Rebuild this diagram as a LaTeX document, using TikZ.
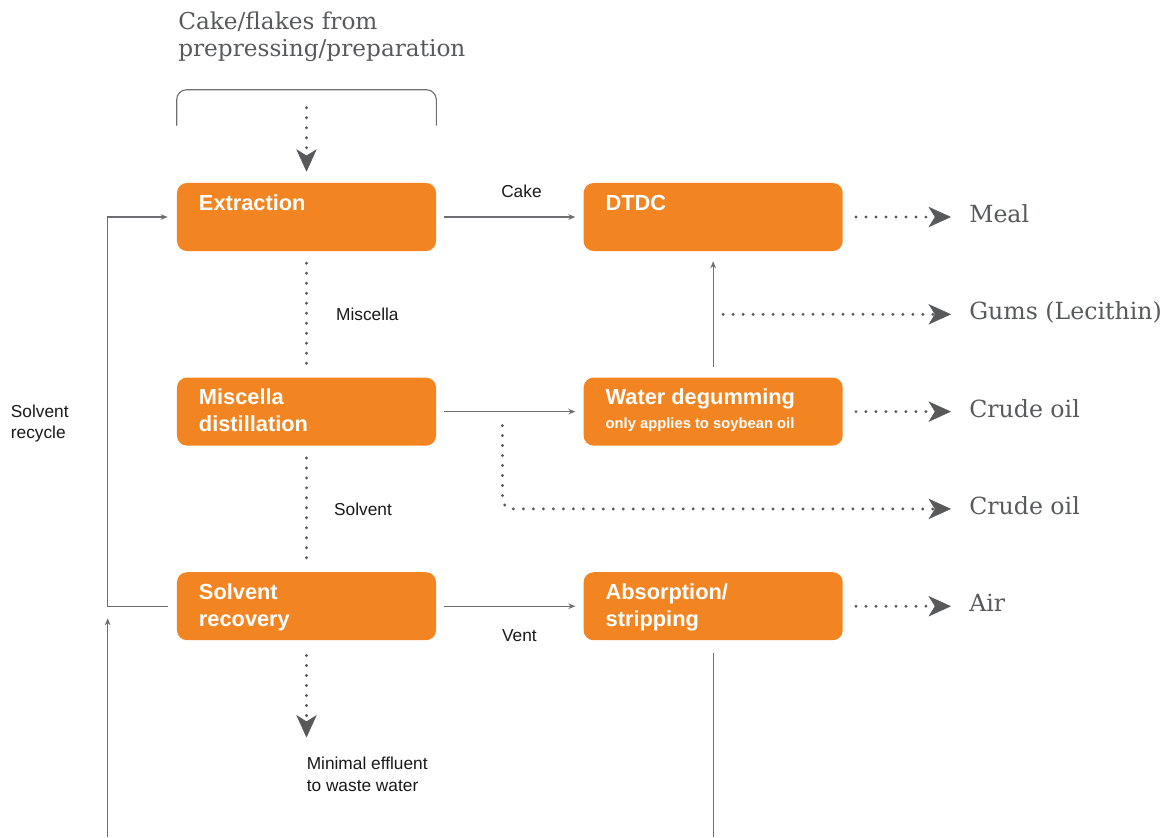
\documentclass[tikz,border=0pt]{standalone}
\usepackage{fontspec}
\setmainfont{DejaVu Serif}
\setsansfont{Liberation Sans}
\usetikzlibrary{arrows.meta,positioning,calc}

\definecolor{procorange}{HTML}{F28522}
\definecolor{flowgrey}{HTML}{6D6E71}
\definecolor{dotgrey}{HTML}{58595B}

\begin{document}
\begin{tikzpicture}[x=0.025cm, y=-0.025cm, node distance=3.15cm and 3.675cm]
        \tikzstyle{proc}=[rectangle, rounded corners=0.25cm, fill=procorange, text=white, inner xsep=0.55cm, inner ysep=0pt, text width=5.375cm, text height=0.675cm, text depth=1.025cm, align=flush left, font=\sffamily\bfseries\fontsize{15.5}{19.2}\selectfont]
        \tikzstyle{note}=[inner sep=0pt, align=flush left, text=black!90, font=\sffamily\fontsize{12.3}{15.6}\selectfont]
        \tikzstyle{product}=[inner sep=0pt, text=dotgrey, text height=0.8em, text depth=0em, font=\fontsize{16.8}{19}\selectfont]
        \tikzstyle{feed}=[inner sep=0pt, align=flush left, text=dotgrey, font=\fontsize{16.5}{19}\selectfont]
        \tikzstyle{pipe}=[draw=flowgrey, line width=0.8pt]
        \tikzstyle{flow}=[pipe, -{Stealth[length=5pt, width=4pt]}]
        \tikzstyle{dots}=[draw=dotgrey, line width=2.3pt, line cap=round, dash pattern=on 0pt off 7.1pt]
        \tikzstyle{dotflow}=[dots, -{Stealth[length=16pt, width=14.5pt, inset=4.5pt, line width=0.4pt]}]
        \useasboundingbox (0,0) rectangle (1176,837);
        \coordinate (floor) at (0,837);
        \begin{scope}
          \node [proc] (ext) at (306.5,217) {Extraction};
          \node [proc] (dtdc) [right=of ext] {DTDC};
          \node [proc] (mdist) [below=of ext] {Miscella\\distillation};
          \node [proc] (degum) [right=of mdist] {Water degumming\\[-2pt]{\fontsize{10.5}{12}\selectfont only applies to soybean oil}};
          \node [proc] (srec) [below=of mdist] {Solvent\\recovery};
          \node [proc] (absorb) [right=of srec] {Absorption/\\stripping};
        \end{scope}
        \begin{scope}
          \node [product, right=3.15cm of dtdc] (meal) {Meal};
          \node [product, right=3.15cm of degum] (oil1) {Crude oil};
          \node [product, right=3.15cm of absorb] (air) {Air};
          \node [product, anchor=west] (gums) at ($(meal.west)!0.5!(oil1.west)$) {Gums (Lecithin)};
          \node [product, anchor=west] (oil2) at ($(oil1.west)!0.5!(air.west)$) {Crude oil};
          \node [feed, anchor=north west] (cake) at (178,11.5) {Cake/flakes from\\prepressing/preparation};
          \node [note, anchor=north west] (effl) at ([yshift=-2.915cm]srec.south) {Minimal effluent\\to waste water};
        \end{scope}
        \coordinate (recyc) at ([xshift=-1.725cm]srec.west);
        \coordinate (split) at ($(mdist.east)!0.45!(degum.west)$);
        \node [note, anchor=north west] (recyclbl) at ([xshift=-2.425cm, yshift=0.185cm]recyc |- mdist.west) {Solvent\\recycle};
        \draw [pipe, rounded corners=0.25cm] ([yshift=1.425cm]ext.north west) |- ([yshift=2.325cm]ext.north) -| ([yshift=1.425cm]ext.north east);
        \draw [dotflow, shorten >=0.275cm] ([yshift=1.875cm]ext.north) -- (ext.north);
        \draw [dots, shorten <=0.3cm, shorten >=0.25cm] (ext) -- (mdist) node [note, midway, anchor=west, xshift=0.7cm] {Miscella};
        \draw [dots, shorten <=0.3cm, shorten >=0.25cm] (mdist) -- (srec) node [note, midway, anchor=west, xshift=0.65cm] {Solvent};
        \draw [dotflow, shorten <=0.375cm, shorten >=0.49cm] (srec.south) -- (effl.north west);
        \draw [flow, shorten <=0.2cm, shorten >=0.2cm] (ext) -- (dtdc) node [note, midway, above=0.475cm, xshift=0.29cm] {Cake};
        \draw [flow, shorten <=0.2cm, shorten >=0.2cm] (mdist) -- (degum);
        \draw [flow, shorten <=0.2cm, shorten >=0.2cm] (srec) -- (absorb) node [note, midway, below=0.565cm, xshift=0.24cm] {Vent};
        \draw [flow, shorten <=0.225cm, shorten >=0.225cm] (srec.west) -- (recyc) |- (ext.west);
        \draw [flow, shorten >=0.3cm] (recyc |- floor) -- (recyc);
        \draw [pipe, shorten <=0.3cm] (absorb.south) -- (absorb.south |- floor);
        \draw [flow, shorten <=0.25cm, shorten >=0.25cm] (degum) -- (dtdc);
        \draw [dotflow, shorten <=0.325cm, shorten >=0.45cm] (dtdc) -- (meal);
        \draw [dotflow, shorten <=0.25cm, shorten >=0.45cm] (dtdc.south |- gums.west) -- (gums);
        \draw [dotflow, shorten <=0.325cm, shorten >=0.45cm] (degum) -- (oil1);
        \draw [dotflow, rounded corners=0.25cm, shorten <=0.35cm, shorten >=0.45cm] (split) |- (oil2);
        \draw [dotflow, shorten <=0.325cm, shorten >=0.45cm] (absorb) -- (air);
\end{tikzpicture}
\end{document}
